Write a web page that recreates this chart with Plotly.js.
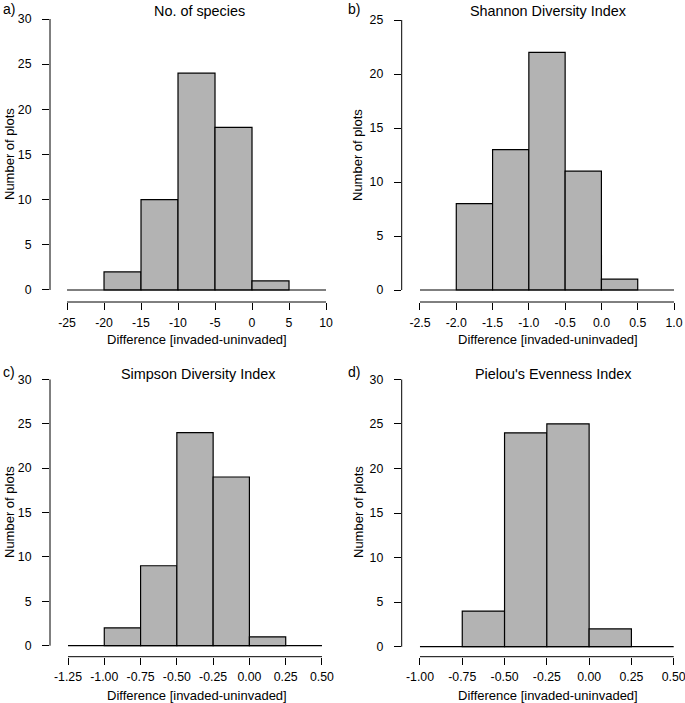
<!DOCTYPE html>
<html>
<head>
<meta charset="utf-8">
<script src="https://cdn.plot.ly/plotly-3.0.1.min.js"></script>
<style>html,body{margin:0;padding:0;background:#fff}#chart{width:685px;height:703px}</style>
</head>
<body>
<div id="chart"></div>
<script>
// ---- data ----
const panelLetters = ["a)", "b)", "c)", "d)"];
const panelTitles = ["No. of species", "Shannon Diversity Index", "Simpson Diversity Index", "Pielou's Evenness Index"];

const binEdgesA = [-20, -15, -10, -5, 0, 5];
const countsA   = [2, 10, 24, 18, 1];
const xTicksA   = [-25, -20, -15, -10, -5, 0, 5, 10];
const yTicksA   = [0, 5, 10, 15, 20, 25, 30];

const binEdgesB = [-2.0, -1.5, -1.0, -0.5, 0.0, 0.5];
const countsB   = [8, 13, 22, 11, 1];
const xTicksB   = [-2.5, -2.0, -1.5, -1.0, -0.5, 0.0, 0.5, 1.0];
const yTicksB   = [0, 5, 10, 15, 20, 25];

const binEdgesC = [-1.00, -0.75, -0.50, -0.25, 0.00, 0.25];
const countsC   = [2, 9, 24, 19, 1];
const xTicksC   = [-1.25, -1.00, -0.75, -0.50, -0.25, 0.00, 0.25, 0.50];
const yTicksC   = [0, 5, 10, 15, 20, 25, 30];

const binEdgesD = [-0.75, -0.50, -0.25, 0.00, 0.25];
const countsD   = [4, 24, 25, 2];
const xTicksD   = [-1.00, -0.75, -0.50, -0.25, 0.00, 0.25, 0.50];
const yTicksD   = [0, 5, 10, 15, 20, 25, 30];

const xTitle = "Difference [invaded-uninvaded]";
const yTitle = "Number of plots";

// ---- layout geometry (pixels) ----
const W = 685, H = 703;
const FONT = "Liberation Sans, Arial, Helvetica, sans-serif";
const panels = [
  {edges: binEdgesA, counts: countsA, xt: xTicksA, yt: yTicksA, dec: 0,
   px: [50, 330], py: [19, 302], xr: [-27.3, 10.54], yr: [-1.33, 30]},
  {edges: binEdgesB, counts: countsB, xt: xTicksB, yt: yTicksB, dec: 1,
   px: [401.7, 678], py: [20, 302], xr: [-2.752, 1.055], yr: [-1.111, 25]},
  {edges: binEdgesC, counts: countsC, xt: xTicksC, yt: yTicksC, dec: 2,
   px: [50, 326], py: [379.3, 656.7], xr: [-1.374, 0.5276], yr: [-1.24, 30]},
  {edges: binEdgesD, counts: countsD, xt: xTicksD, yt: yTicksD, dec: 2,
   px: [401.7, 678], py: [379.3, 656.7], xr: [-1.108, 0.5254], yr: [-1.12, 30]}
];
const letterPos = [[1, 9], [346, 9], [1, 372], [346, 372]];
const titlePos  = [[199, 11], [548, 11], [198, 374], [553, 374]];
const xTitlePos = [[197, 339], [548, 339], [197, 695], [548, 695]];
const yTitlePos = [[9, 154], [358, 155], [9, 512], [358, 512]];

const traces = [];
const shapes = [];
const annotations = [];
const layout = {
  width: W, height: H, margin: {l: 0, r: 0, t: 0, b: 0},
  paper_bgcolor: "#fff", plot_bgcolor: "rgba(0,0,0,0)",
  showlegend: false, font: {family: FONT, size: 12, color: "#000"},
  bargap: 0
};

panels.forEach((p, i) => {
  const n = i === 0 ? "" : String(i + 1);
  const xa = "x" + n, ya = "y" + n;
  const centers = p.counts.map((c, k) => (p.edges[k] + p.edges[k + 1]) / 2);
  const widths = p.counts.map((c, k) => p.edges[k + 1] - p.edges[k]);
  traces.push({
    type: "bar", x: centers, y: p.counts, width: widths, xaxis: xa, yaxis: ya,
    marker: {color: "#b3b3b3", line: {color: "#000", width: 1.2}},
    hoverinfo: "x+y"
  });
  // baseline across full tick range
  traces.push({
    type: "scatter", mode: "lines", x: [p.xt[0], p.xt[p.xt.length - 1]], y: [0, 0],
    xaxis: xa, yaxis: ya, line: {color: "#000", width: 1.2}, hoverinfo: "skip"
  });
  layout["xaxis" + n] = {
    domain: [p.px[0] / W, p.px[1] / W], range: p.xr, anchor: ya,
    showgrid: false, zeroline: false, showline: false,
    tickmode: "array", tickvals: p.xt,
    ticktext: p.xt.map(v => v.toFixed(p.dec)),
    ticks: "outside", ticklen: 7, tickwidth: 1, tickcolor: "#000",
    ticklabelstandoff: 2, ticklabeloverflow: "allow",
    tickfont: {family: FONT, size: 12.3, color: "#000"}, fixedrange: true
  };
  layout["yaxis" + n] = {
    domain: [1 - p.py[1] / H, 1 - p.py[0] / H], range: p.yr, anchor: xa,
    showgrid: false, zeroline: false, showline: false,
    tickmode: "array", tickvals: p.yt, ticktext: p.yt.map(v => String(v)),
    ticks: "outside", ticklen: 7, tickwidth: 1, tickcolor: "#000",
    ticklabelstandoff: 8, ticklabeloverflow: "allow",
    tickfont: {family: FONT, size: 12.3, color: "#000"}, fixedrange: true
  };
  // axis lines (R style: only across tick range)
  shapes.push({type: "line", xref: xa, yref: ya + " domain",
    x0: p.xt[0], x1: p.xt[p.xt.length - 1], y0: 0, y1: 0,
    line: {color: "#000", width: 1}});
  shapes.push({type: "line", xref: xa + " domain", yref: ya,
    x0: 0, x1: 0, y0: p.yt[0], y1: p.yt[p.yt.length - 1],
    line: {color: "#000", width: 1}});

  annotations.push({text: panelLetters[i], xref: "paper", yref: "paper",
    x: letterPos[i][0] / W, y: 1 - letterPos[i][1] / H, xanchor: "left", yanchor: "middle",
    showarrow: false, font: {family: FONT, size: 14, color: "#000"}});
  annotations.push({text: panelTitles[i], xref: "paper", yref: "paper",
    x: titlePos[i][0] / W, y: 1 - titlePos[i][1] / H, xanchor: "center", yanchor: "middle",
    showarrow: false, font: {family: FONT, size: 14.4, color: "#000"}});
  annotations.push({text: xTitle, xref: "paper", yref: "paper",
    x: xTitlePos[i][0] / W, y: 1 - xTitlePos[i][1] / H, xanchor: "center", yanchor: "middle",
    showarrow: false, borderpad: 0, font: {family: FONT, size: 13, color: "#000"}});
  annotations.push({text: yTitle, xref: "paper", yref: "paper", textangle: -90,
    x: yTitlePos[i][0] / W, y: 1 - yTitlePos[i][1] / H, xanchor: "center", yanchor: "middle",
    showarrow: false, borderpad: 0, font: {family: FONT, size: 13, color: "#000"}});
});

layout.shapes = shapes;
layout.annotations = annotations;
Plotly.newPlot("chart", traces, layout, {displayModeBar: false, staticPlot: true});
</script>
</body>
</html>
